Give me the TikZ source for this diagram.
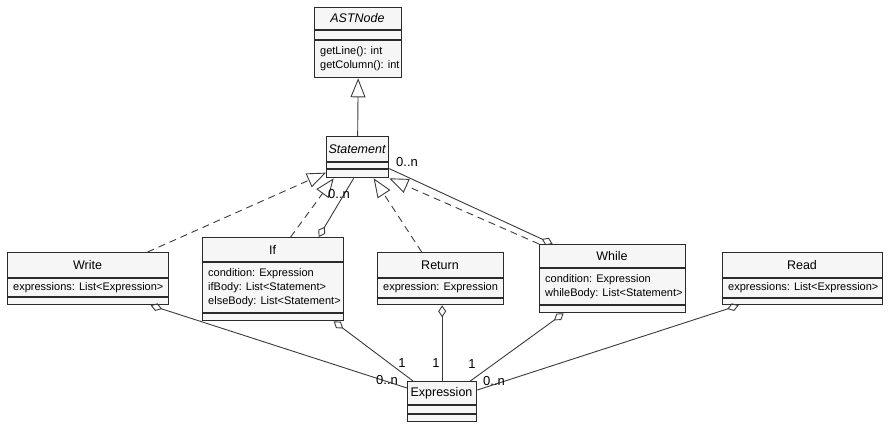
\documentclass[tikz,border=0pt]{standalone}
\usepackage{fontspec}
\setmainfont{Liberation Sans}
\usetikzlibrary{arrows.meta}
\definecolor{boxfill}{HTML}{F6F6F6}
\definecolor{boxline}{HTML}{2B2B2B}
\definecolor{wire}{HTML}{3A3A3A}

\begin{document}
\begin{tikzpicture}[x=1pt,y=-1pt,
    classframe/.style={draw=boxline, fill=boxfill, line width=1.3pt, anchor=north west, inner sep=0pt},
    classsep/.style={draw=boxline, line width=1.3pt},
    classtitle/.style={font=\fontsize{12.5}{14}\selectfont, inner sep=0pt},
    classattr/.style={font=\fontsize{11}{14}\selectfont, align=left, anchor=west, inner xsep=6pt, inner ysep=0pt},
    extend/.style={draw=wire, line width=0.9pt, -{Triangle[open, length=19pt, width=15pt]}},
    realize/.style={extend, dash pattern=on 7pt off 5pt},
    aggr/.style={draw=wire, line width=0.9pt, -{Diamond[open, length=12pt, width=8pt]}},
    mult/.style={font=\fontsize{13}{15}\selectfont, inner sep=0pt}]
    \useasboundingbox (0,0) rectangle (888,427);

    % abstract base classes
    \node[classframe, minimum width=87pt, minimum height=70pt] (astnode) at (314,7) {};
    \draw[classsep] (314,30) -- (401,30) (314,40) -- (401,40);
    \node[classtitle] (astnode-title) at (357.5,18.5) {\itshape ASTNode};
    \node[classattr] (astnode-ops) at (314,58.5) {getLine(): int\\getColumn(): int};

    \node[classframe, minimum width=62pt, minimum height=41pt] (statement) at (326,136) {};
    \draw[classsep] (326,162) -- (388,162) (326,169) -- (388,169);
    \node[classtitle] (statement-title) at (357,149) {\itshape Statement};

    % statements
    \node[classframe, minimum width=161pt, minimum height=52pt] (write) at (7,252) {};
    \draw[classsep] (7,278) -- (168,278) (7,297) -- (168,297);
    \node[classtitle] (write-title) at (87.5,265) {Write};
    \node[classattr] (write-attr) at (7,287.5) {expressions: List<Expression>};

    \node[classframe, minimum width=141pt, minimum height=83pt] (if) at (202,237) {};
    \draw[classsep] (202,262) -- (343,262) (202,313) -- (343,313);
    \node[classtitle] (if-title) at (272.5,249.5) {If};
    \node[classattr] (if-attr) at (202,287.5) {condition: Expression\\ifBody: List<Statement>\\elseBody: List<Statement>};

    \node[classframe, minimum width=126pt, minimum height=52pt] (return) at (377,252) {};
    \draw[classsep] (377,278) -- (503,278) (377,298) -- (503,298);
    \node[classtitle] (return-title) at (440,265) {Return};
    \node[classattr] (return-attr) at (377,288) {expression: Expression};

    \node[classframe, minimum width=146pt, minimum height=68pt] (while) at (539,244) {};
    \draw[classsep] (539,268) -- (685,268) (539,305) -- (685,305);
    \node[classtitle] (while-title) at (612,256) {While};
    \node[classattr] (while-attr) at (539,286.5) {condition: Expression\\whileBody: List<Statement>};

    \node[classframe, minimum width=160pt, minimum height=52pt] (read) at (722,252) {};
    \draw[classsep] (722,278) -- (882,278) (722,298) -- (882,298);
    \node[classtitle] (read-title) at (802,265) {Read};
    \node[classattr] (read-attr) at (722,288) {expressions: List<Expression>};

    \node[classframe, minimum width=69pt, minimum height=40pt] (expression) at (407,381) {};
    \draw[classsep] (407,405) -- (476,405) (407,414) -- (476,414);
    \node[classtitle] (expression-title) at (441.5,393) {Expression};

    % generalisations
    \draw[extend] (statement.north) -- (astnode.south);
    \draw[realize] ([xshift=59.5pt]write.north) -- ([yshift=-15.5pt]statement.west);
    \draw[realize] ([xshift=17.5pt]if.north) -- ([xshift=-24pt]statement.south);
    \draw[realize] ([xshift=-19pt]return.north) -- ([xshift=16pt]statement.south);
    \draw[realize] (while.north west) -- (statement.south east);

    % aggregations
    \draw[aggr] ([xshift=-4pt]statement.south) -- ([xshift=45.5pt]if.north);
    \draw[aggr] ([yshift=-11.5pt]statement.east) -- ([xshift=-60pt]while.north);
    \draw[aggr] ([yshift=-7pt]expression.north west) -- ([xshift=62.5pt]write.south);
    \draw[aggr] ([xshift=6pt]expression.north west) -- ([xshift=60.5pt]if.south);
    \draw[aggr] (expression.north) -- (expression.north |- return.south);
    \draw[aggr] ([xshift=-7pt]expression.north east) -- ([xshift=-49pt]while.south);
    \draw[aggr] ([yshift=-9pt]expression.north east) -- ([xshift=-64pt]read.south);

    % multiplicities
    \node[mult] (m-if-stmt) at (339,194) {0..n};
    \node[mult] (m-while-stmt) at (407,162) {0..n};
    \node[mult] (m-write-expr) at (387,380) {0..n};
    \node[mult] (m-if-expr) at (402,363) {1};
    \node[mult] (m-return-expr) at (436,363) {1};
    \node[mult] (m-while-expr) at (472,364) {1};
    \node[mult] (m-read-expr) at (494,381) {0..n};
\end{tikzpicture}
\end{document}
